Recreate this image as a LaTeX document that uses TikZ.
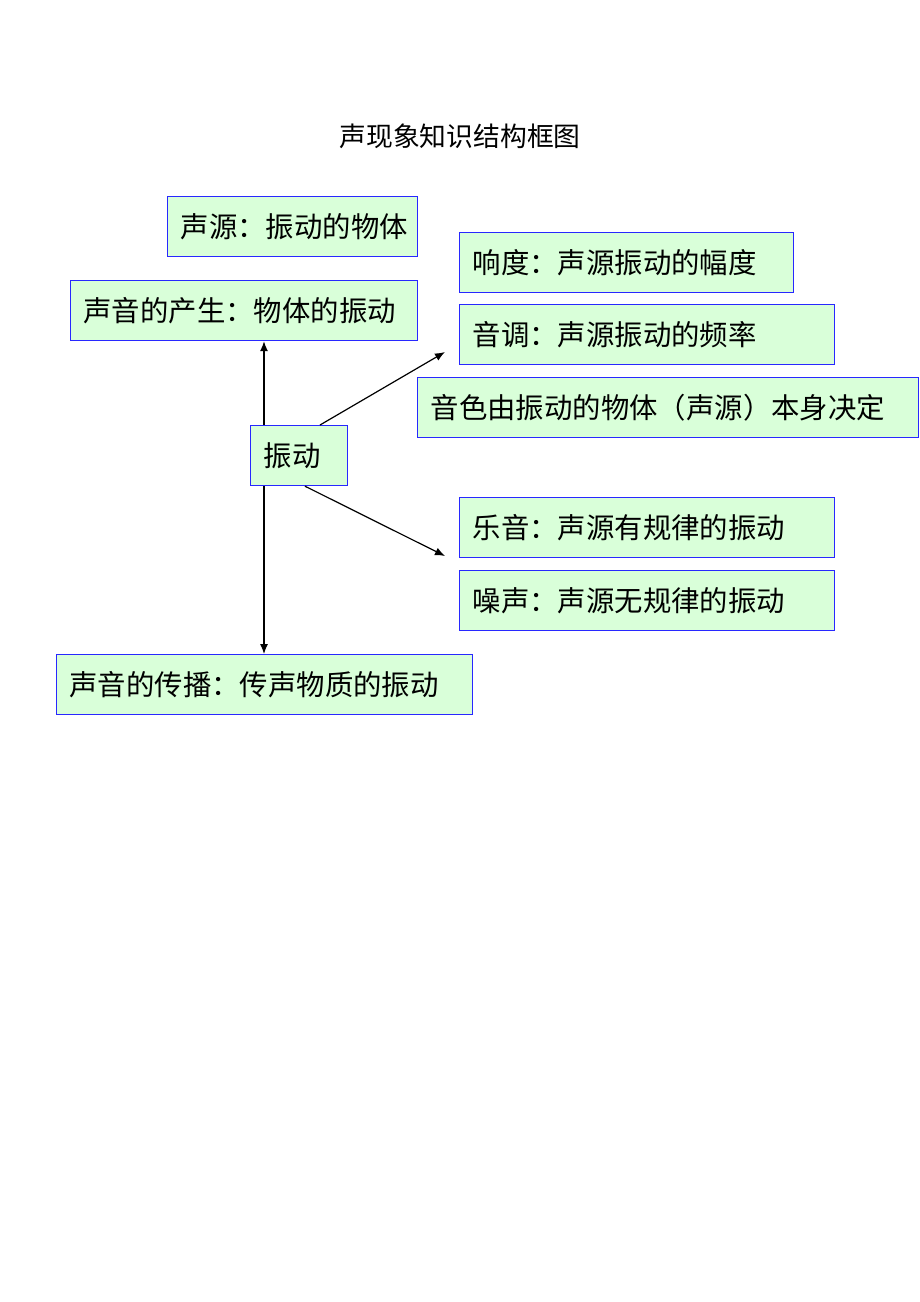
\documentclass[tikz,border=0pt]{standalone}
\usepackage{fontspec}
\setmainfont{Noto Sans CJK SC}
\usepackage{tikz}
\usetikzlibrary{arrows.meta}
\definecolor{boxfill}{RGB}{217,255,217}
\definecolor{boxline}{RGB}{40,40,255}
\tikzset{
  kbox/.style={draw=boxline, fill=boxfill, line width=0.6pt, anchor=north west,
    minimum height=30pt, inner xsep=6.5pt, inner ysep=0pt, align=left,
    font=\fontsize{14.2pt}{17pt}\selectfont},
  link/.style={-{Latex[length=5pt,width=4pt]}, line width=0.6pt}
}
\newcommand{\kbox}[5]{
  % box at top-left corner (#2,#3), #4 wide
  \pgfmathsetmacro\kw{#4/2-13}
  \node[kbox, text width=\kw pt] (#1) at (#2, #3) {#5};
}

\begin{document}
\begin{tikzpicture}[x=0.5pt, y=-0.5pt]
\useasboundingbox[fill=white] (0, 0) rectangle (920, 1302);

\node[font=\fontsize{13.4pt}{16pt}\selectfont] (title) at (460, 136) {声现象知识结构框图};

\kbox{src}{167}{196}{250}{声源：振动的物体}
\kbox{prod}{70}{280}{347}{声音的产生：物体的振动}
\kbox{loud}{459}{232}{334}{响度：声源振动的幅度}
\kbox{pitch}{459}{304}{375}{音调：声源振动的频率}
\kbox{timbre}{417}{377}{501}{音色由振动的物体（声源）本身决定}
\kbox{vib}{250}{425}{97}{振动}
\kbox{music}{459}{497}{375}{乐音：声源有规律的振动}
\kbox{noise}{459}{570}{375}{噪声：声源无规律的振动}
\kbox{prop}{56}{654}{416}{声音的传播：传声物质的振动}

\coordinate (upTip) at (445, 352);
\coordinate (downTip) at (445, 556);

\draw[link] ([xshift=7pt]vib.north west) -- ([xshift=7pt]vib.north west |- prod.south);
\draw[link] ([xshift=7pt]vib.south west) -- ([xshift=7pt]vib.south west |- prop.north);
\draw[link] ([xshift=35pt]vib.north west) -- (upTip);
\draw[link] ([xshift=27.5pt]vib.south west) -- (downTip);
\end{tikzpicture}
\end{document}
